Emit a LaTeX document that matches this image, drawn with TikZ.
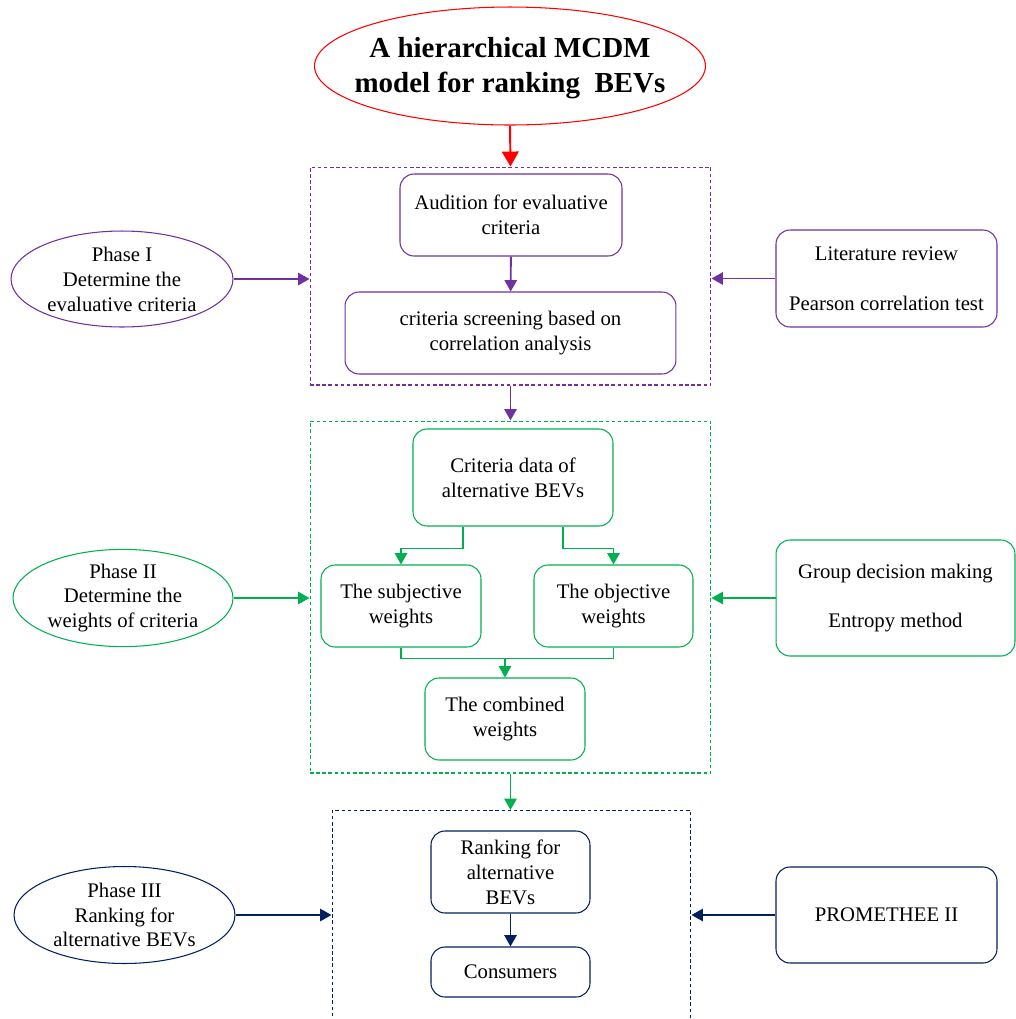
\documentclass[tikz,border=0pt]{standalone}
\usepackage{fontspec}
\setmainfont{Liberation Serif}
\usetikzlibrary{arrows.meta,positioning,shapes.geometric}
\definecolor{PhaseRed}{RGB}{255,0,0}
\definecolor{PhasePurple}{RGB}{112,48,160}
\definecolor{PhaseGreen}{RGB}{0,176,80}
\definecolor{PhaseNavy}{RGB}{0,32,96}
\tikzset{
  txt/.style={font=\fontsize{11.8}{14.2}\selectfont,align=center},
  stepbox/.style={txt,draw=#1,rounded corners=0.28cm,line width=0.6pt,inner sep=2pt},
  phase/.style={txt,ellipse,draw=#1,line width=0.6pt,inner sep=0pt},
  frame/.style={draw=#1,dashed,dash pattern=on 2pt off 1.5pt,line width=0.6pt,inner sep=0pt},
  arrow/.style={-{Triangle[length=6.5pt,width=7pt]},line width=1.1pt,#1},
  link/.style={line width=1.1pt,#1}
}
\begin{document}
\begin{tikzpicture}[x=0.02cm,y=-0.02cm]
  \useasboundingbox (0,0) rectangle (1016,1019);
  % title
  \node[ellipse,draw=PhaseRed,line width=0.6pt,minimum width=7.82cm,minimum height=2.36cm,
    label={[align=center,font=\fontsize{16.5}{20}\selectfont\bfseries,yshift=-1pt]center:A hierarchical MCDM\\model for ranking\ \ BEVs}]
    (title) at (510,66) {};
  % phase I
  \node[frame=PhasePurple,minimum width=8.02cm,minimum height=4.36cm] (frame1) at (510.5,276) {};
  \node[stepbox=PhasePurple,minimum width=4.44cm,minimum height=1.64cm] (audit) at (511,215)
    {Audition for evaluative\\criteria};
  \node[stepbox=PhasePurple,minimum width=6.62cm,minimum height=1.64cm] (screen) at (510.5,333)
    {criteria screening based on\\correlation analysis};
  \node[phase=PhasePurple,minimum width=4.44cm,minimum height=1.92cm] (phase1) at (122,279)
    {Phase I\\Determine the\\evaluative criteria};
  \node[stepbox=PhasePurple,minimum width=4.42cm,minimum height=1.94cm] (lit) at (886.5,278.5)
    {Literature review\\[14.2pt]Pearson correlation test};
  % phase II
  \node[frame=PhaseGreen,minimum width=8.02cm,minimum height=7.04cm] (frame2) at (510.5,597) {};
  \node[stepbox=PhaseGreen,minimum width=4.0cm,minimum height=1.94cm] (cdata) at (513,477.5)
    {Criteria data of\\alternative BEVs};
  \node[stepbox=PhaseGreen,minimum width=3.2cm,minimum height=1.64cm] (subj) at (401,606)
    {The subjective\\weights};
  \node[stepbox=PhaseGreen,minimum width=3.18cm,minimum height=1.64cm] (obj) at (613.5,606)
    {The objective\\weights};
  \node[stepbox=PhaseGreen,minimum width=3.2cm,minimum height=1.64cm] (comb) at (505,719)
    {The combined\\weights};
  \node[phase=PhaseGreen,minimum width=4.4cm,minimum height=1.92cm] (phase2) at (123,598)
    {Phase II\\Determine the\\weights of criteria};
  \node[stepbox=PhaseGreen,minimum width=4.78cm,minimum height=2.32cm] (group) at (895.5,598)
    {Group decision making\\[14.2pt]Entropy method};
  % phase III
  \node[frame=PhaseNavy,minimum width=7.18cm,minimum height=4.6cm,anchor=north] (frame3) at (511.5,810) {};
  \node[stepbox=PhaseNavy,minimum width=3.18cm,minimum height=1.64cm] (rank) at (510.5,872)
    {Ranking for\\alternative\\BEVs};
  \node[stepbox=PhaseNavy,minimum width=3.18cm,minimum height=1.0cm] (cons) at (510.5,972)
    {Consumers};
  \node[phase=PhaseNavy,minimum width=4.42cm,minimum height=1.94cm] (phase3) at (124.5,915)
    {Phase III\\Ranking for\\alternative BEVs};
  \node[stepbox=PhaseNavy,minimum width=4.42cm,minimum height=1.92cm] (prom) at (886.5,915)
    {PROMETHEE II};
  % connectors
  \draw[-{Triangle[length=8.5pt,width=9.5pt]},line width=1.1pt,PhaseRed] (title.south) -- (frame1.north);
  \draw[arrow=PhasePurple] (audit) -- (screen);
  \draw[arrow=PhasePurple] (frame1.south) -- (frame2.north);
  \draw[arrow=PhasePurple] (phase1.east) -- (phase1.east -| frame1.west);
  \draw[arrow=PhasePurple] (lit.west) -- (lit.west -| frame1.east);
  \draw[arrow=PhaseGreen] ([xshift=-1cm]cdata.south) -- ++(0,22) -| (subj.north);
  \draw[arrow=PhaseGreen] ([xshift=1cm]cdata.south) -- ++(0,22) -| (obj.north);
  \draw[link=PhaseGreen] (subj.south) -- ++(0,11) coordinate (join) -| (obj.south);
  \draw[arrow=PhaseGreen] (join -| comb.north) -- (comb.north);
  \draw[arrow=PhaseGreen] (phase2.east) -- (phase2.east -| frame2.west);
  \draw[arrow=PhaseGreen] (group.west) -- (group.west -| frame2.east);
  \draw[arrow=PhaseGreen] (frame2.south) -- (frame2.south |- frame3.north);
  \draw[arrow=PhaseNavy] (rank) -- (cons);
  \draw[arrow=PhaseNavy] (phase3.east) -- (phase3.east -| frame3.west);
  \draw[arrow=PhaseNavy] (prom.west) -- (prom.west -| frame3.east);
\end{tikzpicture}
\end{document}
